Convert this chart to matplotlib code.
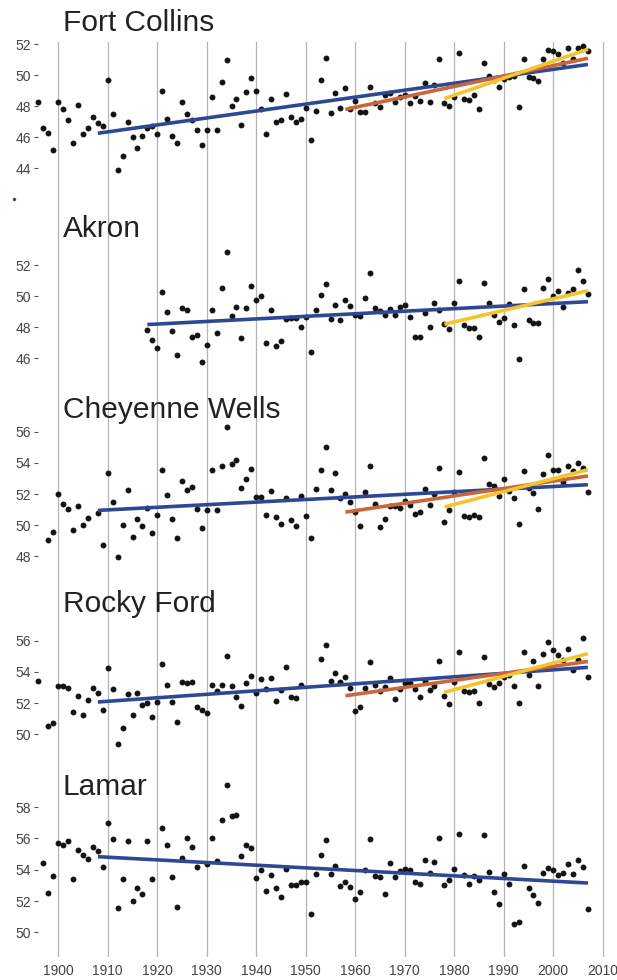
import matplotlib.pyplot as plt
import numpy as np

plt.rcParams['font.family'] = ['Liberation Sans', 'DejaVu Sans']
nan = np.nan

# годовые средние температуры, по станциям (nan - года без точки)
stations = ['Fort Collins', 'Akron', 'Cheyenne Wells', 'Rocky Ford', 'Lamar']
first_year = [1896, 1918, 1898, 1896, 1897]

fort_collins = [48.3, 46.6, 46.3, 45.2, 48.3, 47.8, 47.1, 45.6, 48.1, 46.2,
                46.6, 47.3, 46.9, 46.7, 49.7, 47.5, 43.9, 44.8, 47.0, 46.0,
                45.3, 46.1, 46.6, 46.7, 46.2, 49.0, 47.2, 46.1, 45.6, 48.3,
                47.5, 47.1, 46.5, 45.5, 46.5, 48.6, 46.5, 49.6, 51.0, 48.0,
                48.5, 46.8, 48.9, 49.8, 49.0, 47.8, 46.2, 48.5, 47.0, 47.1,
                48.8, 47.3, 47.0, 47.2, 47.9, 45.8, 47.7, 49.7, 51.1, 47.55,
                48.86, 47.87, 49.16, 47.8, 48.34, 47.63, 47.63, 49.27, 48.2, 47.98,
                48.73, 48.84, 48.3, 48.62, 48.73, 48.2, 48.67, 48.37, 49.5, 48.3,
                49.38, 51.08, 48.24, 48.02, 48.6, 51.44, 48.45, 48.41, 48.73, 47.83,
                50.82, 49.96, 49.7, 49.23, 49.76, 49.9, 49.96, 47.98, 51.05, 49.91,
                49.83, 49.66, 51.03, 51.63, 51.57, 51.38, 50.8, 51.74, 51.03, 51.74,
                51.9, 51.59]

akron = [47.82, 47.16, 46.63, 50.24, 48.96, 47.76, 46.22, 49.22, 49.13, 47.4,
         47.52, 45.75, 46.84, 49.09, 47.63, 50.54, 52.84, 48.7, 49.32, 47.29,
         49.22, 50.67, 49.73, 50.0, 47.0, 49.09, 46.8, 47.12, 48.53, 48.57,
         48.62, 48.04, 48.66, 46.41, 49.13, 50.05, 50.78, 48.53, 49.41, 48.47,
         49.77, 49.34, 48.77, 48.75, 49.88, 51.46, 49.26, 49.04, 48.81, 49.17,
         48.79, 49.28, 49.41, 48.64, 47.4, 47.4, 48.9, 48.0, 49.54, 49.1,
         48.2, 47.89, 49.56, 50.95, 48.17, 47.97, 47.97, 47.37, 50.84, 49.58,
         48.77, 48.32, 48.62, 49.49, 48.15, 45.94, 50.48, 48.47, 48.25, 48.3,
         50.52, 51.12, 50.03, 50.35, 49.32, 50.18, 50.46, 51.7, 50.97, 50.12]

cheyenne_wells = [49.03, 49.56, 51.98, 51.34, 51.02, 49.67, 51.25, 50.03, 50.44, nan,
                  50.8, 48.71, 53.37, 51.47, 47.94, 50.01, 52.26, 49.26, 50.37, 49.93,
                  51.12, 49.5, 50.67, 53.52, 51.91, 50.37, 49.18, 52.86, 52.24, 52.45,
                  51.02, 49.8, 50.95, 53.56, 51.0, 53.82, 56.28, 53.9, 54.16, 52.41,
                  52.96, 53.6, 51.81, 51.81, 50.63, 52.21, 50.52, 50.05, 51.76, 50.35,
                  49.97, 51.87, 50.57, 49.18, 52.32, 53.56, 54.99, 52.28, 53.37, 51.76,
                  51.98, 51.47, 50.84, 49.97, 52.15, 53.8, 51.38, 49.9, 50.42, 51.21,
                  51.25, 51.12, 51.55, 51.29, 50.7, 50.82, 52.3, 51.29, 51.98, 53.69,
                  50.22, 50.97, 52.1, 53.39, 50.57, 50.52, 50.65, 50.52, 54.33, 52.62,
                  52.53, 51.89, 52.96, 52.19, 51.72, 50.05, 53.5, 52.36, 52.09, 51.04,
                  53.3, 54.5, 53.52, 53.52, 52.79, 53.82, 53.48, 54.01, 53.65, 52.15]

rocky_ford = [53.44, nan, 50.55, 50.72, 53.09, 53.09, 52.99, 51.43, 52.45, 51.21,
              52.2, 52.94, 52.67, 51.53, 54.23, 52.92, 49.35, 50.38, 52.56, 51.26,
              52.62, 51.9, 52.03, 51.09, 52.09, 54.53, 53.14, 52.09, 50.79, 53.33,
              53.31, 53.35, 51.73, 51.56, 51.36, 53.14, 52.77, 53.16, 55.02, 53.12,
              52.37, 51.83, 53.31, 53.74, 52.65, 53.54, 52.88, 53.59, 52.11, 52.84,
              54.29, 52.37, 52.3, 53.18, nan, nan, nan, 54.8, 55.74, 53.41,
              53.95, 53.37, 53.67, 52.97, 51.49, 51.73, 52.97, 54.61, 53.14, 52.77,
              53.05, 53.61, 52.26, 52.88, 53.26, 53.26, 52.9, 52.37, 53.41, 52.84,
              53.09, 54.72, 52.47, 51.94, 53.33, 55.29, 52.79, 52.69, 52.77, 52.0,
              54.93, 53.24, 53.01, 53.26, 53.69, 53.8, 53.12, 52.03, 55.27, 53.8,
              54.7, 53.09, 55.12, 55.89, 55.42, 55.08, 54.76, 55.49, 54.12, 54.76,
              56.17, 53.65]

lamar = [54.43, 52.53, 53.62, 55.72, 55.55, 55.81, 53.43, 55.23, 54.91, 54.7,
         55.47, 55.19, 54.17, 57.0, 55.94, 51.57, 53.43, 55.83, 51.98, 52.83,
         52.45, 55.83, 53.4, nan, 56.66, 55.6, 53.53, 51.6, 54.74, 56.02,
         55.43, 54.17, nan, 54.36, 56.02, 54.57, 57.19, 59.38, 57.45, 57.51,
         54.87, 55.57, 55.4, 53.47, 53.96, 52.64, 53.64, 52.81, 52.28, 54.02,
         53.04, 53.0, 53.23, 53.23, 51.19, 53.72, 54.91, 55.87, 53.72, 54.26,
         52.98, 53.19, 52.89, 52.15, 52.6, 53.98, 55.98, 53.62, 53.51, 52.47,
         54.4, 53.53, 53.89, 54.02, 53.96, 53.19, 53.06, 54.6, 53.79, 54.47,
         56.02, 53.02, 53.34, 54.04, 56.28, 53.66, 53.11, 53.62, 53.34, 56.23,
         53.87, 52.55, 51.83, 53.74, 53.11, 50.53, 50.64, 54.23, 52.81, 52.38,
         51.89, 53.79, 54.13, 54.0, 53.66, 53.81, 54.36, 53.72, 54.62, 54.17,
         51.51]

series = [fort_collins, akron, cheyenne_wells, rocky_ford, lamar]

# линии тренда: начало-конец (все заканчиваются в 2007)
trend_end = 2007
long_start = [1908, 1918, 1908, 1908, 1908]
long_from = [46.26, 48.17, 50.95, 52.07, 54.83]
long_to = [50.7, 49.64, 52.6, 54.29, 53.15]
mid_start = 1958
mid_from = [47.8, nan, 50.84, 52.47, nan]
mid_to = [51.1, nan, 53.16, 54.67, nan]
short_start = 1978
short_from = [48.5, 48.19, 51.17, 52.69, nan]
short_to = [51.68, 50.35, 53.56, 55.17, nan]

y_ticks = [[44, 46, 48, 50, 52], [46, 48, 50, 52], [48, 50, 52, 54, 56],
           [50, 52, 54, 56], [50, 52, 54, 56, 58]]
x_ticks = list(range(1900, 2011, 10))

# одинокая синяя точка слева от Fort Collins
stray_x, stray_y = [1891.1], [42.0]

# раскладка панелей в пикселях
W, H = 617, 980
tops = [42, 205, 390, 578, 765]
bottoms = [205, 390, 578, 765, 957]
ylims = [(41.63, 52.15), (43.96, 55.86), (46.61, 58.68), (48.03, 60.02), (48.43, 60.68)]
title_base = [30.7, 236.7, 418.3, 611.7, 795]

fig = plt.figure(figsize=(W / 100, H / 100), dpi=100)
left = 38 / W

for i, name in enumerate(stations):
    ax = fig.add_axes([left, 1 - bottoms[i] / H, 1 - left, (bottoms[i] - tops[i]) / H])
    vals = np.array(series[i], dtype=float)
    years = first_year[i] + np.arange(len(vals))

    ax.scatter(years, vals, s=18, color='#141414', linewidths=0, zorder=3, clip_on=False)

    ax.plot([long_start[i], trend_end], [long_from[i], long_to[i]],
            color='#2e4894', lw=2.6, solid_capstyle='butt', zorder=4)
    if not np.isnan(mid_from[i]):
        ax.plot([mid_start, trend_end], [mid_from[i], mid_to[i]],
                color='#c9663a', lw=2.6, solid_capstyle='butt', zorder=5)
    if not np.isnan(short_from[i]):
        ax.plot([short_start, trend_end], [short_from[i], short_to[i]],
                color='#f4c42c', lw=2.6, solid_capstyle='butt', zorder=6)

    if i == 0:
        ax.scatter(stray_x, stray_y, s=6, color='#2e4894', linewidths=0, clip_on=False)

    ax.set_xlim(1895.9, 2012.87)
    ax.set_ylim(*ylims[i])
    ax.set_xticks(x_ticks)
    ax.set_yticks(y_ticks[i])
    ax.grid(axis='x', color='#b4b4b4', lw=0.9)
    ax.set_axisbelow(True)
    for s in ax.spines.values():
        s.set_visible(False)
    ax.tick_params(axis='y', length=3, width=0.8, color='#555555', pad=2,
                   labelsize=10, labelcolor='#444444')
    if i == len(stations) - 1:
        ax.tick_params(axis='x', length=0, pad=5, labelsize=10, labelcolor='#444444')
    else:
        ax.tick_params(axis='x', length=0, labelbottom=False)

    fig.text(62.7 / W, 1 - title_base[i] / H, name, fontsize=21.5, color='#222222',
             va='baseline', ha='left')

plt.savefig('out.png', dpi=100)
